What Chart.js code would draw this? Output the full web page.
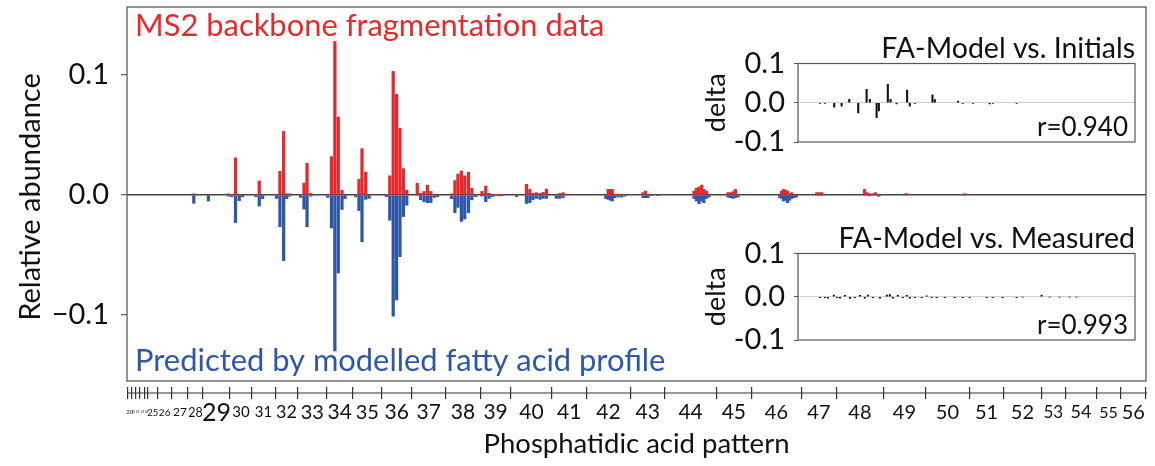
<!DOCTYPE html>
<html><head><meta charset="utf-8">
<script src="https://cdn.jsdelivr.net/npm/chart.js@4.4.1/dist/chart.umd.min.js"></script>
<style>
html,body{margin:0;padding:0;background:#fff;}
#wrap{position:relative;width:1155px;height:466px;overflow:hidden;}
canvas{position:absolute;}
</style></head><body>
<div id="wrap">
<canvas id="main" width="1155" height="466" style="left:0;top:0;"></canvas>
<canvas id="ins1" width="443" height="127" style="left:696px;top:31px;"></canvas>
<canvas id="ins2" width="443" height="135" style="left:696px;top:221px;"></canvas>
</div>
<script>
// ---------- DATA ----------
// bar positions along the pattern axis (slot index)
const positions = [19.7,24.0,29.9,30.9,32.0,33.1,34.1,38.0,39.0,40.0,44.1,45.1,46.2,47.1,48.0,51.2,52.2,53.1,54.2,59.2,60.3,61.3,62.3,63.4,64.3,67.4,68.4,69.3,70.4,71.4,76.5,77.5,78.5,79.5,80.5,81.5,82.5,85.6,86.6,87.6,88.6,89.6,90.6,91.6,95.7,96.7,97.6,98.6,99.6,100.7,101.7,102.8,104.7,105.8,106.8,107.8,108.8,109.8,110.8,114.9,117.8,118.8,119.7,120.7,121.8,122.7,123.7,126.6,127.6,128.6,141.2,141.9,142.6,143.1,143.8,144.8,145.8,146.8,152.2,152.9,153.6,154.6,156.5,167.2,167.9,168.7,169.5,170.1,170.9,171.6,177.2,177.9,178.7,179.4,180.2,192.5,193.0,193.6,194.2,194.8,195.4,196.0,196.7,197.4,203.4,204.2,204.9,217.5,218.2,219.0,220.0,220.7,221.7,229.8,247.0];
// MS2 backbone fragmentation data (red, up)
const measured = [0.001,0,0.001,0,0.031,0,0,0,0.0117,0,
0,0.0197,0.053,0.001,0.001,0,0.010,0.0264,0.0014,0,
0.032,0.128,0.065,0.004,0,0,0.013,0.0386,0.019,0,
0,0.016,0.103,0.084,0.0556,0.022,0.004,0.0097,0.0014,0.003,
0.0083,0.003,0,0,0.001,0.012,0.0175,0.020,0.016,0.019,
0.0056,0,0.003,0.0075,0.0014,0,0.0005,0.0005,0,0,
0.0089,0.0047,0.0014,0.002,0.0014,0.0022,0.005,0,0.0014,0.002,
0,0.0047,0.0047,0.0047,0.0005,0.0008,0,0,0.002,0.0033,
0,0,0,0.0033,0.0056,0.0067,0.0083,0.0047,0.0033,0,
0.002,0.002,0.0028,0.0047,0,0,0.0033,0.0047,0.004,0.0033,
0,0.002,0,0,0.002,0.002,0.002,0.0047,0.002,0.0011,
0.0011,0.002,0,0.0013,0.0011];
// Predicted by modelled fatty acid profile (blue, drawn downward)
const predicted = [-0.0069,-0.005,-0.001,-0.0015,-0.023,-0.0047,-0.0015,-0.0014,-0.0092,-0.003,
-0.0028,-0.0264,-0.0547,-0.003,-0.001,-0.002,-0.0117,-0.0264,-0.001,-0.002,
-0.0275,-0.13,-0.065,-0.012,-0.003,-0.0015,-0.013,-0.039,-0.0036,-0.0028,
-0.0014,-0.021,-0.101,-0.0875,-0.0514,-0.018,-0.0085,0,-0.004,-0.0056,
-0.0064,-0.0064,-0.002,-0.0014,-0.003,-0.0147,-0.0103,-0.022,-0.020,-0.0147,
-0.004,-0.0014,-0.001,-0.0056,-0.0028,-0.0014,-0.0005,-0.0008,-0.0005,-0.0014,
-0.007,-0.0064,-0.004,-0.0028,-0.0036,-0.0028,-0.0028,-0.0028,-0.0028,-0.0022,
-0.003,-0.0036,-0.0044,-0.005,-0.0022,-0.0017,-0.0017,-0.001,-0.0022,-0.0022,
-0.0022,-0.0005,-0.0005,-0.0028,-0.005,-0.0072,-0.005,-0.0064,-0.0028,-0.0017,
-0.0017,-0.0022,-0.0028,-0.0022,-0.0017,-0.0022,-0.0028,-0.005,-0.0044,-0.0064,
-0.0044,-0.0028,-0.0022,-0.0017,0,0,0,0,0,-0.0008,
0,0,-0.0011,0,0];
// Inset: FA-Model vs. Initials
const initialsPos = [19.6,24.0,32.3,38.9,45.7,53.7,61.2,64.1,70.1,72.1,80.1,82.5,87.9,97.3,99.7,104.2,119.9,122.0,142.7,146.9,156.1,170.9,173.9,195.0];
const initialsDelta = [-0.002,-0.002,-0.011,-0.0086,0.0086,-0.026,0.034,0.0086,-0.038,-0.021,0.047,0.0086,-0.003,0.032,-0.0086,-0.002,0.02,0.008,0.004,-0.002,-0.002,-0.003,-0.002,-0.002];
// Inset: FA-Model vs. Measured
const measuredPos = [19.6,24.0,26.7,32.0,34.7,37.4,41.8,46.3,50.7,55.2,59.6,62.3,66.8,73.0,79.2,81.9,84.6,89.0,93.5,97.0,99.7,104.2,110.4,114.8,119.3,123.7,130.9,139.8,146.9,153.1,168.3,173.6,182.5,194.9,200.3,217.2,224.3,233.2,242.1,248.4];
const measuredDelta = [-0.002,-0.002,-0.003,0.004,-0.002,-0.003,0.003,-0.004,-0.002,0.003,-0.003,0.004,-0.002,-0.003,0.004,0.005,-0.003,0.003,-0.002,0.003,-0.003,-0.002,-0.002,0.002,-0.002,-0.002,-0.002,-0.002,-0.002,-0.002,-0.002,-0.002,-0.002,-0.002,-0.001,0.004,-0.001,-0.001,-0.001,-0.001];
// Group labels (phosphatidic acid pattern) and group boundaries (slot index)
const groupLabels = ['20','21','22','23','24','25','26','27','28','29','30','31','32','33','34','35','36','37','38','39','40','41','42','43','44','45','46','47','48','49','50','51','52','53','54','55','56'];
const groupBounds = [0.2,1.4,2.4,3.8,5.3,6.2,9.0,13.2,18.0,22.4,30.4,36.8,43.7,50.4,58.9,66.6,75.1,84.0,94.0,104.2,113.2,125.3,135.5,148.5,158.6,173.8,184.1,198.9,209.2,223.1,235.4,248.5,258.5,269.6,276.7,285.9,293.0,300.5];
const yTicks = [-0.1, 0, 0.1];
const insetTicks = [-0.1, 0, 0.1];

// ---------- STYLE ----------
const FONT = 'Lato';
Chart.defaults.font.family = FONT;
Chart.defaults.color = '#111';
const XMAX = 300.5;
const labelFontSizes = [6,3,3,3,3,9.5,10,12,12.5,25,15,15,18,20,21,20,21,21,21,21,21,21,21,21,21,21,20,20,20,20,20,20,20,17,18,16,20];
const RED = '#e52a2e', BLUE = '#2f57a7';
const groupMids = groupLabels.map((_, i) => (groupBounds[i] + groupBounds[i + 1]) / 2);

function fitFont(ctx, text, width, weight) {
  ctx.font = (weight || '') + ' 100px ' + FONT;
  const w = ctx.measureText(text).width;
  return 100 * width / w;
}

const mainDecor = {
  id: 'mainDecor',
  afterDraw(chart) {
    const {ctx, chartArea: a, scales} = chart;
    ctx.save();
    ctx.strokeStyle = '#5a5a5a';
    ctx.lineWidth = 1.3;
    const fb = a.bottom - 6;
    ctx.strokeRect(a.left, a.top, a.right - a.left, fb - a.top);
    const x2 = scales.x2;
    const ly = x2.top + 6;
    ctx.strokeStyle = '#333';
    ctx.lineWidth = 1.2;
    ctx.beginPath(); ctx.moveTo(x2.left, ly); ctx.lineTo(x2.right + 1, ly); ctx.stroke();
    // annotations
    ctx.textBaseline = 'alphabetic';
    ctx.textAlign = 'left';
    let t = 'MS2 backbone fragmentation data';
    ctx.fillStyle = RED;
    ctx.font = fitFont(ctx, t, 470).toFixed(1) + 'px ' + FONT;
    ctx.fillText(t, a.left + 8, a.top + 29);
    t = 'Predicted by modelled fatty acid profile';
    ctx.fillStyle = BLUE;
    ctx.font = fitFont(ctx, t, 530).toFixed(1) + 'px ' + FONT;
    ctx.fillText(t, a.left + 8, 371);
    ctx.restore();
  }
};

const noOffset = {offset: false};

new Chart(document.getElementById('main'), {
  type: 'bar',
  data: {
    datasets: [
      {label: 'MS2 backbone fragmentation data', data: positions.map((x, i) => ({x, y: measured[i]})),
       backgroundColor: RED, borderWidth: 0, barThickness: 2.6, grouped: false},
      {label: 'Predicted by modelled fatty acid profile', data: positions.map((x, i) => ({x, y: predicted[i]})),
       backgroundColor: BLUE, borderWidth: 0, barThickness: 2.6, grouped: false}
    ]
  },
  options: {
    responsive: false, animation: false, devicePixelRatio: 1,
    layout: {padding: {left: 0, right: 9, top: 7, bottom: 0}},
    plugins: {legend: {display: false}, tooltip: {enabled: false}},
    scales: {
      x: {type: 'linear', min: 0, max: XMAX, display: false, offset: false, grid: noOffset},
      x2: {type: 'linear', position: 'bottom', min: 0, max: XMAX, weight: 1, offset: false,
        border: {display: false},
        grid: {offset: false, drawOnChartArea: false, drawTicks: true, tickLength: 12, color: '#333', lineWidth: 1.2},
        ticks: {display: false},
        afterBuildTicks: s => { s.ticks = groupBounds.map(v => ({value: v})); },
        afterFit: s => { s.height = 12; s.paddingLeft = 0; s.paddingRight = 0; }
      },
      x3: {type: 'linear', position: 'bottom', min: 0, max: XMAX, weight: 2, offset: false,
        border: {display: false},
        grid: {offset: false, display: false, drawTicks: false},
        afterBuildTicks: s => { s.ticks = groupMids.map(v => ({value: v})); },
        ticks: {autoSkip: false, maxRotation: 0, minRotation: 0, padding: 0, color: '#111',
          crossAlign: 'near',
          callback: (v, i) => groupLabels[i],
          font: c => ({family: FONT, size: labelFontSizes[c.index] || 20, lineHeight: '27px'})},
        title: {display: true, text: 'Phosphatidic acid pattern', color: '#111', font: {size: 27.5}, padding: {top: 0, bottom: 5}},
        afterFit: s => { s.height = 67; s.paddingLeft = 0; s.paddingRight = 0; }
      },
      y: {min: -0.16, max: 0.1567, position: 'left',
        border: {display: false},
        afterBuildTicks: s => { s.ticks = yTicks.map(v => ({value: v})); },
        ticks: {padding: 12, color: '#111', font: {size: 29},
          callback: v => (v < 0 ? '\u2212' : '') + Math.abs(v).toFixed(1)},
        grid: {drawTicks: true, tickLength: 6, tickColor: '#555', tickWidth: 1.2,
          color: c => (c.tick && c.tick.value === 0) ? '#444' : 'rgba(0,0,0,0)', lineWidth: 1.4},
        title: {display: true, text: 'Relative abundance', color: '#111', font: {size: 29}, padding: {top: 13, bottom: 0}},
        afterFit: s => { s.width = 127; s.paddingTop = 0; s.paddingBottom = 0; }
      }
    }
  },
  plugins: [mainDecor]
});

function insetDecor(rText) {
  return {
    id: 'insetDecor',
    afterDraw(chart) {
      const {ctx, chartArea: a} = chart;
      ctx.save();
      ctx.strokeStyle = '#555'; ctx.lineWidth = 1.2;
      ctx.strokeRect(a.left, a.top, a.right - a.left, a.bottom - a.top);
      ctx.fillStyle = '#111';
      ctx.font = '26px ' + FONT;
      ctx.textAlign = 'right'; ctx.textBaseline = 'alphabetic';
      ctx.fillText(rText, a.right - 7, a.bottom - 6);
      ctx.restore();
    }
  };
}

function makeInset(id, pos, vals, title, rText) {
  new Chart(document.getElementById(id), {
    type: 'bar',
    data: {datasets: [{label: title, data: pos.map((x, i) => ({x, y: vals[i]})),
      backgroundColor: '#111', borderWidth: 0, barThickness: 1.4}]},
    options: {
      responsive: false, animation: false, devicePixelRatio: 1,
      layout: {padding: {left: 0, right: 4, top: 0, bottom: 16}},
      plugins: {legend: {display: false}, tooltip: {enabled: false},
        title: {display: true, text: title, align: 'end', color: '#111', font: {size: 28.5, weight: 'normal', lineHeight: 1}, padding: {top: 4, bottom: 0}}},
      scales: {
        x: {type: 'linear', min: 0, max: XMAX, display: false, offset: false, grid: noOffset},
        y: {min: -0.1, max: 0.1, border: {display: false},
          afterBuildTicks: s => { s.ticks = insetTicks.map(v => ({value: v})); },
          ticks: {padding: 9, color: '#111', font: {size: 29}, callback: v => v.toFixed(1)},
          grid: {drawTicks: true, tickLength: 4, tickColor: '#555',
            color: c => (c.tick && c.tick.value === 0) ? '#cfcfcf' : 'rgba(0,0,0,0)', lineWidth: 1},
          title: {display: true, text: 'delta', color: '#111', font: {size: 27}, padding: {top: 4, bottom: 0}},
          afterFit: s => { s.width = 102; s.paddingTop = 0; s.paddingBottom = 0; }
        }
      }
    },
    plugins: [insetDecor(rText)]
  });
}
makeInset('ins1', initialsPos, initialsDelta, 'FA-Model vs. Initials', 'r=0.940');
makeInset('ins2', measuredPos, measuredDelta, 'FA-Model vs. Measured', 'r=0.993');
</script>
</body></html>
